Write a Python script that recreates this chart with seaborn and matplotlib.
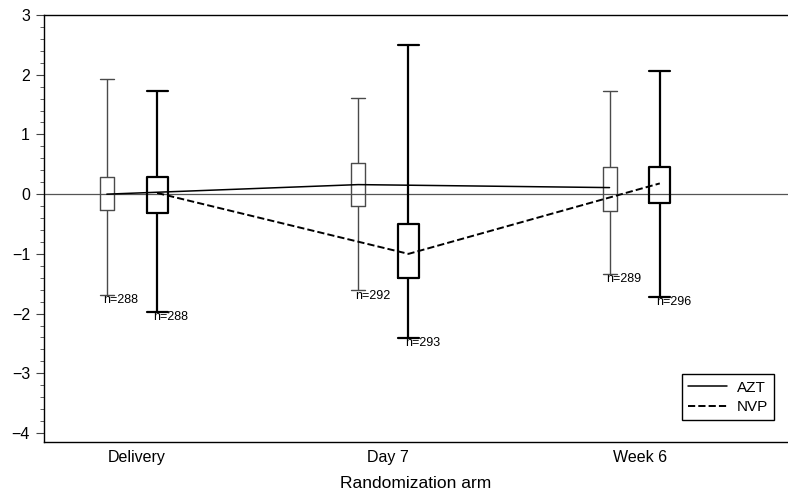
import matplotlib
matplotlib.use("Agg")
from matplotlib import pyplot as plt
from matplotlib import ticker
import seaborn as sns
import pandas as pd
import numpy as np

# =============================================================================
# values
# =============================================================================
times = ['Delivery', 'Day 7', 'Week 6']
arms = ['AZT', 'NVP']

azt_min = [-1.69, -1.61, -1.34]
azt_q1 = [-0.26, -0.19, -0.28]
azt_mean = [0.00, 0.16, 0.11]
azt_q3 = [0.28, 0.52, 0.45]
azt_max = [1.92, 1.61, 1.73]
azt_n = [288, 292, 289]

nvp_min = [-1.97, -2.41, -1.72]
nvp_q1 = [-0.31, -1.40, -0.15]
nvp_mean = [0.02, -1.00, 0.18]
nvp_q3 = [0.28, -0.50, 0.46]
nvp_max = [1.73, 2.50, 2.06]
nvp_n = [288, 293, 296]

# =============================================================================
# build tables (five-number summary per box -> whis=(0,100) reproduces it)
# =============================================================================
x_pos = np.arange(len(times))
dodge = {'AZT': -0.1, 'NVP': 0.1}
stats = {
    'AZT': (azt_min, azt_q1, azt_mean, azt_q3, azt_max, azt_n),
    'NVP': (nvp_min, nvp_q1, nvp_mean, nvp_q3, nvp_max, nvp_n),
}

def box_frame(arm):
    rows = []
    lo, q1, mid, q3, hi, n = stats[arm]
    for i in range(len(times)):
        for v in (lo[i], q1[i], mid[i], q3[i], hi[i]):
            rows.append({'pos': x_pos[i] + dodge[arm], 'value': v})
    return pd.DataFrame(rows)

def mean_frame(arm):
    return pd.DataFrame({'pos': x_pos + dodge[arm], 'mean': stats[arm][2]})

# =============================================================================
# plotting
# =============================================================================
sns.set_style('ticks')
plt.rcParams['font.family'] = ['Liberation Sans', 'DejaVu Sans']
plt.rcParams['text.color'] = 'black'
plt.rcParams['axes.labelcolor'] = 'black'
plt.rcParams['xtick.labelcolor'] = 'black'
plt.rcParams['ytick.labelcolor'] = 'black'

fig = plt.figure(figsize=(7.88, 4.94), dpi=100)
ax = fig.add_axes([44 / 788, 1 - 442 / 494, 1 - 44 / 788, (442 - 15) / 494])

ax.axhline(0, color='#555555', lw=0.9, zorder=1)

look = {
    'AZT': dict(color='#4a4a4a', lw=1.0, width=0.056, ls='-'),
    'NVP': dict(color='black', lw=1.6, width=0.084, ls='--'),
}

for arm in arms:
    st = look[arm]
    sns.boxplot(data=box_frame(arm), x='pos', y='value', native_scale=True,
                width=st['width'], whis=(0, 100), fill=False, showfliers=False,
                color=st['color'], linewidth=st['lw'], capwidths=st['width'],
                medianprops={'visible': False}, ax=ax)
    sns.lineplot(data=mean_frame(arm), x='pos', y='mean', color='black',
                 lw=1.1 if arm == 'AZT' else 1.4, linestyle=st['ls'],
                 label=arm, ax=ax)
    for i in range(len(times)):
        ax.annotate('n={}'.format(stats[arm][5][i]),
                    (x_pos[i] + dodge[arm], stats[arm][0][i]),
                    xytext=(-2.5, 0.5), textcoords='offset points',
                    ha='left', va='top', fontsize=9, color='black')

ax.set_xlim(-0.35, 2.61)
ax.set_ylim(-4.15, 3)
ax.set_xticks(x_pos + 0.02)
ax.set_xticklabels(times)
ax.tick_params(axis='x', length=0, labelsize=11.5, pad=6)
ax.yaxis.set_major_locator(ticker.MultipleLocator(1))
ax.yaxis.set_minor_locator(ticker.MultipleLocator(0.2))
ax.tick_params(axis='y', which='major', length=6, labelsize=11.5, color='#444444', pad=4)
ax.tick_params(axis='y', which='minor', length=3, color='#444444')
ax.set_xlabel('Randomization arm', fontsize=12.5, labelpad=8)
ax.set_ylabel('')

for side in ['left', 'bottom', 'top']:
    ax.spines[side].set_visible(True)
    ax.spines[side].set_color('black')
    ax.spines[side].set_linewidth(1.0)
ax.spines['right'].set_visible(False)

leg = ax.legend(loc='lower right', bbox_to_anchor=(774 / 788, 1 - 420 / 494),
                bbox_transform=fig.transFigure, borderaxespad=0, fancybox=False,
                framealpha=1, edgecolor='black', fontsize=11, handlelength=2.6,
                handletextpad=0.6, borderpad=0.4, labelspacing=0.35,
                markerfirst=True)
leg.get_frame().set_linewidth(1.0)

fig.savefig('out.png', dpi=100)
